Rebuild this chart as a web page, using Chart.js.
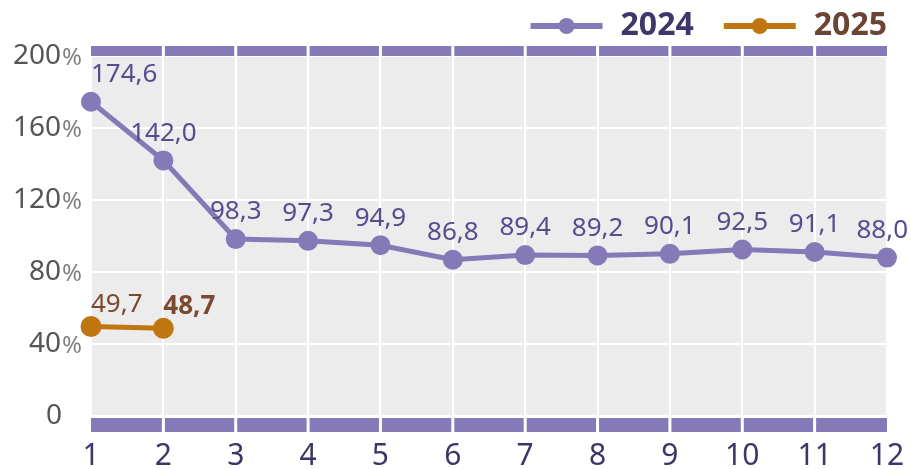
<!DOCTYPE html>
<html>
<head>
<meta charset="utf-8">
<script src="https://cdn.jsdelivr.net/npm/chart.js@4/dist/chart.umd.min.js"></script>
<style>
  html, body { margin: 0; padding: 0; background: #fff; }
  #wrap { width: 911px; height: 469px; }
</style>
</head>
<body>
<div id="wrap"><canvas id="chart"></canvas></div>
<script>
// data
const months = ['1', '2', '3', '4', '5', '6', '7', '8', '9', '10', '11', '12'];
const values2024 = [174.6, 142.0, 98.3, 97.3, 94.9, 86.8, 89.4, 89.2, 90.1, 92.5, 91.1, 88.0];
const values2025 = [49.7, 48.7, null, null, null, null, null, null, null, null, null, null];
const yTicks = [0, 40, 80, 120, 160, 200];

const purple = '#8579b7';
const orange = '#c0760f';
const font = "'Noto Sans', 'DejaVu Sans', sans-serif";

let fmt = function (v) {
    return v.toFixed(1).replace('.', ',');
}

// grey plot background
const areaBg = {
    id: 'areaBg',
    beforeDraw(chart) {
        const { ctx, chartArea: a } = chart;
        ctx.save();
        ctx.fillStyle = '#ececec';
        ctx.fillRect(a.left, a.top, a.right - a.left, a.bottom - a.top);
        ctx.restore();
    }
};

// thick purple bands along top and bottom, broken at each category line
const bands = {
    id: 'bands',
    beforeDatasetsDraw(chart) {
        const { ctx, chartArea: a, scales } = chart;
        const x = scales.x;
        ctx.save();
        ctx.fillStyle = purple;
        for (let i = 0; i < months.length - 1; i++) {
            let x0 = x.getPixelForValue(i) + (i == 0 ? 0 : 1.5);
            let x1 = x.getPixelForValue(i + 1) - (i == months.length - 2 ? 0 : 1.5);
            ctx.fillRect(x0, a.top - 10, x1 - x0, 10);
            ctx.fillRect(x0, a.bottom + 2, x1 - x0, 14);
        }
        ctx.restore();
    }
};

// y labels: number plus a smaller, lighter percent sign
const yLabels = {
    id: 'yLabels',
    afterDraw(chart) {
        const { ctx, scales } = chart;
        const y = scales.y;
        ctx.save();
        ctx.textBaseline = 'middle';
        yTicks.forEach(t => {
            let py = y.getPixelForValue(t);
            ctx.textAlign = 'right';
            ctx.fillStyle = '#555555';
            ctx.font = '28px ' + font;
            if (t == 0) {
                ctx.fillText('0', 62, py);
                return;
            }
            ctx.fillText(String(t), 61, py);
            ctx.textAlign = 'left';
            ctx.fillStyle = '#7f7f7f';
            ctx.font = '24px ' + font;
            ctx.fillText('%', 62, py + 2);
        });
        ctx.restore();
    }
};

// value labels above the points
const valueLabels = {
    id: 'valueLabels',
    afterDatasetsDraw(chart) {
        const { ctx, chartArea: a } = chart;
        ctx.save();
        ctx.textBaseline = 'middle';
        chart.data.datasets.forEach((ds, di) => {
            const meta = chart.getDatasetMeta(di);
            const last = ds.data.filter(v => v != null).length - 1;
            meta.data.forEach((pt, i) => {
                let v = ds.data[i];
                if (v == null) return;
                let bold = di == 1 && i == last;
                ctx.font = (bold ? 'bold ' : '') + '26px ' + font;
                ctx.fillStyle = di == 0 ? '#574c8e' : '#7a4a30';
                let txt = fmt(v);
                let w = ctx.measureText(txt).width;
                let lx = pt.x - w / 2;
                if (di == 1 || lx < a.left) lx = pt.x;
                if (lx + w > chart.width - 3) lx = chart.width - 3 - w;
                ctx.textAlign = 'left';
                ctx.fillText(txt, lx, pt.y - (di == 1 ? 22 : 27));
            });
        });
        ctx.restore();
    }
};

// legend: line with a dot, then bold year, right aligned
const legendLines = {
    id: 'legendLines',
    afterDraw(chart) {
        const { ctx, chartArea: a } = chart;
        const items = [
            { text: '2024', line: purple, color: '#3e376a' },
            { text: '2025', line: orange, color: '#6b4433' }
        ];
        ctx.save();
        ctx.font = 'bold 32px ' + font;
        ctx.textBaseline = 'middle';
        let x = a.right;
        const cy = 26;
        for (let k = items.length - 1; k >= 0; k--) {
            let it = items[k];
            let w = ctx.measureText(it.text).width;
            ctx.fillStyle = it.color;
            ctx.textAlign = 'left';
            ctx.fillText(it.text, x - w, cy);
            let lineEnd = x - w - 18;
            let lineStart = lineEnd - 72;
            ctx.strokeStyle = it.line;
            ctx.lineWidth = 6;
            ctx.beginPath();
            ctx.moveTo(lineStart, cy);
            ctx.lineTo(lineEnd, cy);
            ctx.stroke();
            ctx.fillStyle = it.line;
            ctx.beginPath();
            ctx.arc((lineStart + lineEnd) / 2, cy, 8, 0, Math.PI * 2);
            ctx.fill();
            x = lineStart - 30;
        }
        ctx.restore();
    }
};

new Chart(document.getElementById('chart'), {
    type: 'line',
    data: {
        labels: months,
        datasets: [
            {
                label: '2024',
                data: values2024,
                borderColor: purple,
                backgroundColor: purple,
                borderWidth: 5,
                pointRadius: 7.5,
                pointHoverRadius: 7.5,
                fill: false
            },
            {
                label: '2025',
                data: values2025,
                borderColor: orange,
                backgroundColor: orange,
                borderWidth: 5,
                pointRadius: 8,
                pointHoverRadius: 8,
                spanGaps: false,
                fill: false
            }
        ]
    },
    options: {
        responsive: true,
        maintainAspectRatio: false,
        animation: false,
        layout: { padding: { top: 56, right: 24, left: 0, bottom: 0 } },
        plugins: {
            legend: { display: false },
            tooltip: { enabled: false }
        },
        scales: {
            x: {
                offset: false,
                grid: { color: '#ffffff', lineWidth: 2, drawTicks: false },
                border: { display: false },
                ticks: {
                    color: '#3d3568',
                    font: { family: font, size: 30 },
                    padding: 22,
                    maxRotation: 0,
                    autoSkip: false
                },
                afterFit: s => {
                    s.height = 53;
                    s.paddingLeft = 0;
                    s.paddingRight = 0;
                }
            },
            y: {
                min: 0,
                max: 200,
                grid: { color: '#ffffff', lineWidth: 2, drawTicks: false },
                border: { display: false },
                ticks: { stepSize: 40, display: false },
                afterFit: s => { s.width = 91; }
            }
        }
    },
    plugins: [areaBg, bands, yLabels, valueLabels, legendLines]
});
</script>
</body>
</html>
